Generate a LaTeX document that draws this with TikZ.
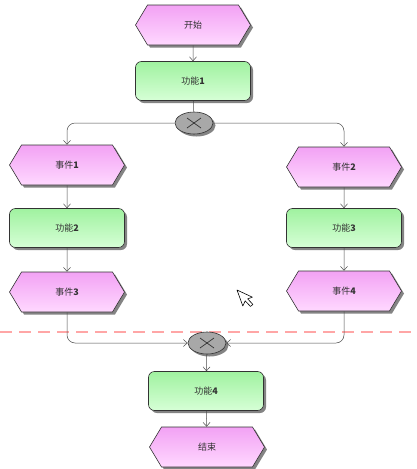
\documentclass[tikz,border=0pt]{standalone}
\usepackage{fontspec}
\setmainfont{Liberation Sans}
\newfontfamily\cjk{Noto Sans CJK SC}
\usetikzlibrary{shapes.symbols,shapes.geometric,shadows,arrows.meta}
\definecolor{evtop}{HTML}{F2A2F4}
\definecolor{evbot}{HTML}{FFD8FF}
\definecolor{fntop}{HTML}{A0F2A0}
\definecolor{fnbot}{HTML}{D6FFD6}
\definecolor{xorfill}{HTML}{A8A8A8}
\begin{document}
\begin{tikzpicture}[x=1pt,y=-1pt,
  shd/.style={drop shadow={shadow xshift=2.5pt,shadow yshift=-2.5pt,fill=black!60,opacity=0.8}},
  lbl/.style={font=\cjk\fontsize{9}{10}\selectfont, text=black!80},
  evt/.style={signal, signal to=east and west, signal pointer angle=118,
    minimum width=115pt, minimum height=40pt, inner sep=0pt,
    draw=black!80, line width=0.6pt, top color=evtop, bottom color=evbot, shd, lbl},
  fn/.style={rectangle, rounded corners=6pt, minimum width=115pt, minimum height=39pt,
    draw=black!80, line width=0.6pt, top color=fntop, bottom color=fnbot, shd, lbl},
  xor/.style={ellipse, minimum width=38pt, minimum height=22pt, inner sep=0pt,
    draw=black!80, line width=0.6pt, fill=xorfill, shd,
    path picture={\draw[black!80,line width=0.7pt]
      ([xshift=-7pt,yshift=-5pt]path picture bounding box.center) -- ([xshift=7pt,yshift=5pt]path picture bounding box.center)
      ([xshift=-7pt,yshift=5pt]path picture bounding box.center) -- ([xshift=7pt,yshift=-5pt]path picture bounding box.center);}},
  conn/.style={draw=black!70, line width=0.5pt, rounded corners=8pt},
  arr/.style={-{Straight Barb[length=4pt,width=7pt]}}
]
\useasboundingbox (0,0) rectangle (416,469);
\fill[white] (0,0) rectangle (416,469);
\draw[red!35, line width=1.2pt, dash pattern=on 12pt off 7pt] (0,332) -- (416,332);

\node[evt] (start) at (193,25) {开始};
\node[fn] (f1) at (193,81) {功能\textbf{1}};
\node[xor] (x1) at (194,123) {};
\node[evt] (e1) at (67,165) {事件\textbf{1}};
\node[fn] (f2) at (67,228) {功能\textbf{2}};
\node[evt] (e3) at (67,292) {事件\textbf{3}};
\node[evt] (e2) at (344,167) {事件\textbf{2}};
\node[fn] (f3) at (344,228) {功能\textbf{3}};
\node[evt] (e4) at (344,291) {事件\textbf{4}};
\node[xor] (x2) at (207,343) {};
\node[fn] (f4) at (206,391) {功能\textbf{4}};
\node[evt] (end) at (207,447) {结束};

\draw[conn,arr] (start) -- (f1);
\draw[conn] (f1) -- (x1);
\draw[conn,arr] (x1.west) -| (e1.north);
\draw[conn,arr] (x1.east) -| (e2.north);
\draw[conn,arr] (e1) -- (f2);
\draw[conn,arr] (f2) -- (e3);
\draw[conn,arr] (e2) -- (f3);
\draw[conn,arr] (f3) -- (e4);
\draw[conn,arr] (e3.south) |- (x2.west);
\draw[conn,arr] (e4.south) |- (x2.east);
\draw[conn,arr] (x2) -- (f4);
\draw[conn,arr] (f4) -- (end);

% mouse pointer
\draw[black, fill=white, line width=0.6pt, line join=round, shift={(237,290)}, rotate=20]
  (0,0) -- (0,17) -- (4,13) -- (7,20) -- (10,19) -- (7,12) -- (12,12) -- cycle;
\end{tikzpicture}
\end{document}
